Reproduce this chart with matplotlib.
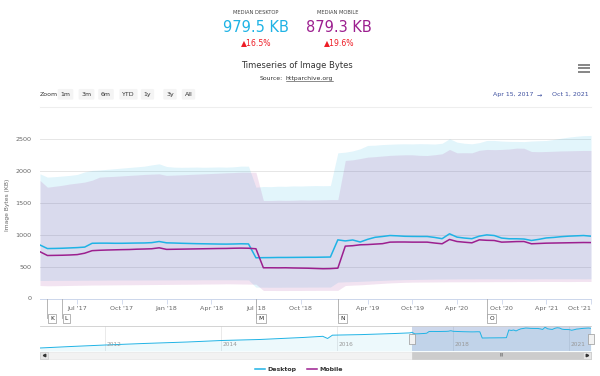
import numpy as np
import pandas as pd
import matplotlib
matplotlib.use('Agg')
import matplotlib.pyplot as plt
from matplotlib import transforms
from matplotlib.patches import Rectangle
from matplotlib.path import Path

# crawl dates: semi-monthly until end of 2018, monthly after that
dates = pd.DatetimeIndex(list(pd.date_range('2017-04-15', '2018-12-15', freq='SMS')) +
                         list(pd.date_range('2019-01-01', '2021-10-01', freq='MS')))

desktop_median = [
    841, 785, 787, 790, 795, 800, 808, 868, 870, 870,
    868, 868, 870, 872, 873, 878, 896, 875, 872, 868,
    865, 862, 860, 858, 856, 855, 857, 860, 858, 640,
    642, 643, 645, 645, 646, 647, 648, 648, 650, 652,
    922, 905, 920, 888, 930, 962, 975, 990, 985, 978,
    976, 975, 975, 960, 940, 1017, 965, 950, 940, 980,
    1000, 990, 950, 939, 939, 935, 912, 930, 952, 960,
    972, 980, 985, 990, 979.5]
mobile_median = [
    735, 676, 678, 680, 684, 690, 712, 752, 758, 762,
    765, 768, 770, 775, 778, 782, 797, 772, 774, 776,
    778, 780, 782, 784, 786, 787, 790, 792, 790, 782,
    483, 483, 482, 483, 480, 478, 476, 472, 468, 470,
    477, 823, 830, 844, 848, 855, 862, 886, 888, 888,
    886, 886, 886, 872, 860, 928, 896, 885, 875, 922,
    915, 912, 886, 890, 895, 896, 860, 865, 870, 872,
    874, 876, 878, 880, 879.3]
desktop_high = [
    1960, 1908, 1915, 1925, 1935, 1950, 1990, 2013, 2020, 2030,
    2040, 2050, 2060, 2070, 2080, 2100, 2117, 2075, 2065, 2062,
    2064, 2066, 2063, 2065, 2068, 2065, 2070, 2081, 2080, 1750,
    1760, 1758, 1765, 1763, 1770, 1768, 1772, 1775, 1773, 1775,
    2290, 2300, 2320, 2353, 2406, 2410, 2420, 2425, 2430, 2432,
    2430, 2434, 2432, 2428, 2440, 2511, 2458, 2440, 2432, 2450,
    2484, 2484, 2475, 2470, 2469, 2466, 2475, 2480, 2484, 2500,
    2520, 2537, 2550, 2560, 2563]
mobile_high = [
    1855, 1750, 1765, 1780, 1800, 1815, 1830, 1860, 1908, 1915,
    1920, 1928, 1935, 1942, 1950, 1955, 1960, 1935, 1940, 1945,
    1950, 1955, 1960, 1965, 1970, 1976, 1980, 1986, 1986, 1984,
    1541, 1541, 1545, 1543, 1545, 1550, 1548, 1550, 1552, 1555,
    1555, 2170, 2180, 2200, 2222, 2230, 2240, 2250, 2255, 2259,
    2259, 2250, 2248, 2260, 2275, 2343, 2290, 2292, 2290, 2330,
    2343, 2340, 2343, 2350, 2364, 2362, 2311, 2308, 2311, 2315,
    2320, 2322, 2325, 2327, 2327]
desktop_low = [
    283, 284, 285, 285, 286, 286, 287, 288, 288, 289,
    289, 290, 290, 290, 291, 291, 292, 292, 292, 293,
    293, 293, 294, 294, 294, 294, 294, 293, 292, 178,
    178, 177, 177, 178, 178, 178, 179, 179, 180, 180,
    257, 262, 266, 270, 275, 280, 285, 290, 294, 297,
    299, 301, 303, 305, 306, 307, 308, 309, 309, 310,
    311, 310, 309, 310, 311, 310, 309, 310, 311, 310,
    310, 311, 310, 309, 310]
mobile_low = [
    204, 200, 201, 203, 205, 207, 209, 211, 212, 213,
    214, 215, 216, 217, 218, 219, 220, 221, 222, 223,
    224, 225, 227, 228, 229, 231, 230, 228, 226, 225,
    126, 126, 125, 125, 126, 126, 127, 127, 128, 128,
    128, 204, 210, 215, 222, 230, 238, 245, 250, 254,
    257, 258, 259, 260, 261, 262, 262, 263, 263, 264,
    264, 265, 265, 265, 266, 266, 266, 267, 267, 267,
    267, 266, 267, 268, 267]

# older desktop history shown only in the navigator
nav_dates = ['2010-11-15', '2011-06-01', '2012-01-01', '2012-09-01', '2013-06-01',
             '2014-01-01', '2014-09-01', '2015-06-01', '2015-10-01', '2015-11-01',
             '2015-12-01', '2016-06-01', '2017-01-01', '2017-04-01']
nav_desktop = [291, 344, 396, 449, 501, 553, 589, 660, 700, 624, 740, 760, 799, 820]

tick_dates = ['2017-07-01', '2017-10-01', '2018-01-01', '2018-04-01', '2018-07-01', '2018-10-01',
              '2019-04-01', '2019-10-01', '2020-04-01', '2020-10-01', '2021-04-01', '2021-10-01']
flag_letters = ['K', 'L', 'M', 'N', 'O']
flag_dates = ['2017-05-01', '2017-06-01', '2018-07-01', '2018-12-15', '2020-08-01']
nav_years = ['2012', '2014', '2016', '2018', '2021']

C_DESK = '#1fb3e5'
C_MOB = '#9c1f8f'
C_RED = '#ee1c25'
C_GREY = '#666666'

W, H = 600, 376
fig = plt.figure(figsize=(6, 3.76), dpi=100)


def rect(x0, y0, x1, y1):
    return [x0 / W, 1 - y1 / H, (x1 - x0) / W, (y1 - y0) / H]


def halfmonth(d):
    return (d.year * 12 + d.month - 1) * 2 + (1 if d.day >= 15 else 0)


def ordinal(s):
    d = pd.Timestamp(s)
    if d >= dates[0]:
        return dates.get_indexer([d], method='bfill')[0]
    return halfmonth(d) - halfmonth(dates[0])


ax = fig.add_axes(rect(40, 133.1, 591, 298.5), zorder=1)
nav = fig.add_axes(rect(40, 326, 591, 351), zorder=1)
ov = fig.add_axes([0, 0, 1, 1], zorder=3)
ov.set_xlim(0, W)
ov.set_ylim(H, 0)
ov.axis('off')

# ---------------- main chart ----------------
x = np.arange(len(dates))
ax.fill_between(x, desktop_low, desktop_high, color=C_DESK, alpha=0.13, lw=0)
ax.fill_between(x, mobile_low, mobile_high, color=C_MOB, alpha=0.12, lw=0)
l_desk, = ax.plot(x, desktop_median, color=C_DESK, lw=1.1)
l_mob, = ax.plot(x, mobile_median, color=C_MOB, lw=1.1)

ax.set_xlim(0, x[-1])
ax.set_ylim(0, 2600)
ax.set_yticks([0, 500, 1000, 1500, 2000, 2500])
ax.yaxis.grid(True, color='#e6e6e6', lw=0.7)
ax.set_axisbelow(True)
for s in ['top', 'right', 'left']:
    ax.spines[s].set_visible(False)
ax.spines['bottom'].set_color('#ccd6eb')
ax.spines['bottom'].set_linewidth(0.7)
tick_idx = [dates.get_loc(pd.Timestamp(d)) for d in tick_dates]
ax.set_xticks(tick_idx)
ax.set_xticklabels([pd.Timestamp(d).strftime("%b '%y") for d in tick_dates])
ax.tick_params(axis='x', length=3.6, color='#ccd6eb', width=0.6, labelsize=4.6,
               labelcolor=C_GREY, pad=2)
ax.tick_params(axis='y', length=0, labelsize=4.6, labelcolor=C_GREY, pad=6)
ax.get_xticklabels()[-1].set_ha('right')
ax.set_ylabel('Image Bytes (KB)', fontsize=4.3, color=C_GREY)
ax.yaxis.set_label_coords(-0.054, 0.565)

# flags under the axis
blend_ax = transforms.blended_transform_factory(ax.transData, ov.transData)
shift = transforms.ScaledTranslation(2.5 / 100, 0, fig.dpi_scale_trans)
for letter, d in zip(flag_letters, flag_dates):
    i = dates.get_loc(pd.Timestamp(d))
    ov.plot([i, i], [298.5, 318], transform=blend_ax, color='#aaaaaa', lw=0.6)
    ov.text(i, 318.5, letter, transform=blend_ax + shift, ha='left', va='center',
            fontsize=4.2, color='#222222',
            bbox=dict(boxstyle='square,pad=0.35', fc='white', ec='#999999', lw=0.5))

# ---------------- navigator ----------------
nav_x = np.concatenate([[ordinal(d) for d in nav_dates], x])
nav_y = np.concatenate([nav_desktop, desktop_median])
nav.fill_between(nav_x, 186, nav_y, color=C_DESK, alpha=0.08, lw=0)
nav.plot(nav_x, nav_y, color=C_DESK, lw=0.7)
nav.axvspan(0, x[-1], color='#6685c2', alpha=0.32, lw=0)
nav.set_xlim(nav_x[0], x[-1])
nav.set_ylim(186, 1061)
nav.set_xticks([])
nav.set_yticks([])
for s in ['left', 'right', 'bottom']:
    nav.spines[s].set_visible(False)
nav.spines['top'].set_color('#cccccc')
nav.spines['top'].set_linewidth(0.6)
blend_nav_ax = transforms.blended_transform_factory(nav.transData, nav.transAxes)
for yr in nav_years:
    i = ordinal(yr + '-01-01')
    nav.axvline(i, color='#e6e6e6', lw=0.6, zorder=0)
    nav.text(i, 0.24, yr, transform=blend_nav_ax + transforms.ScaledTranslation(1.5 / 100, 0, fig.dpi_scale_trans),
             ha='left', va='center', fontsize=4.2, color='#999999')
handle = Path([(-0.25, -0.5), (0.25, -0.5), (0.25, 0.5), (-0.25, 0.5), (-0.25, -0.5)])
nav.plot([0, x[-1]], [0.5, 0.5], transform=blend_nav_ax, ls='none', marker=handle, ms=7.5,
         mfc='#f2f2f2', mec='#999999', mew=0.5, clip_on=False)

# scrollbar
blend_nav = transforms.blended_transform_factory(nav.transData, ov.transData)
ov.add_patch(Rectangle((40, 351.5), 551, 7, fc='#f2f2f2', ec='#e6e6e6', lw=0.5))
ov.add_patch(Rectangle((0, 351.5), x[-1], 7, transform=blend_nav, fc='#cccccc', ec='#cccccc', lw=0.5))
ov.add_patch(Rectangle((40, 351.5), 8, 7, fc='#e6e6e6', ec='#cccccc', lw=0.5))
ov.add_patch(Rectangle((583, 351.5), 8, 7, fc='#e6e6e6', ec='#cccccc', lw=0.5))
ov.plot([44], [355], marker='<', ms=1.8, color='#333333')
ov.plot([587], [355], marker='>', ms=1.8, color='#333333')
ov.text(x[-1] / 2, 355, '|||', transform=blend_nav, fontsize=3, ha='center', va='center', color='#333333')

# ---------------- header ----------------
ov.text(255.5, 13, 'MEDIAN DESKTOP', fontsize=3.7, color='#444444', ha='center', va='center')
ov.text(255.5, 27.5, '979.5 KB', fontsize=10.5, color=C_DESK, ha='center', va='center')
ov.text(256.5, 43, '▲16.5%', fontsize=5.6, color=C_RED, ha='center', va='center')
ov.text(338, 13, 'MEDIAN MOBILE', fontsize=3.7, color='#444444', ha='center', va='center')
ov.text(338.5, 27.5, '879.3 KB', fontsize=10.5, color=C_MOB, ha='center', va='center')
ov.text(339, 43, '▲19.6%', fontsize=5.6, color=C_RED, ha='center', va='center')

ov.text(297, 65.7, 'Timeseries of Image Bytes', fontsize=6, color='#333333', ha='center', va='center')
ov.text(283, 78.3, 'Source:', fontsize=4.4, color='#333333', ha='right', va='center')
link = ov.text(285.5, 78.3, 'httparchive.org', fontsize=4.4, color='#333333', ha='left', va='center')
fig.canvas.draw()
bb = link.get_window_extent().transformed(ov.transData.inverted())
ov.plot([bb.x0, bb.x1], [81.2, 81.2], color='#333333', lw=0.4)

for yy in [64.5, 68, 71.5]:
    ov.plot([578, 590], [yy, yy], color=C_GREY, lw=1.1, solid_capstyle='butt')

# range selector row
ov.text(49, 94.3, 'Zoom', fontsize=4.5, color='#333333', ha='center', va='center')
for label, cx in zip(['1m', '3m', '6m', 'YTD', '1y', '3y', 'All'],
                     [65.5, 86.5, 106, 128.5, 147.5, 170, 188.5]):
    ov.text(cx, 94.3, label, fontsize=4.5, color='#333333', ha='center', va='center',
            bbox=dict(boxstyle='round,pad=0.45,rounding_size=0.2', fc='#f4f4f4', ec='none'))
ov.text(493, 94.3, 'Apr 15, 2017', fontsize=4.5, color='#3d4f9f', ha='left', va='center')
ov.text(539.5, 94.3, '→', fontsize=4.5, color='#3d4f9f', ha='center', va='center')
ov.text(552, 94.3, 'Oct 1, 2021', fontsize=4.5, color='#3d4f9f', ha='left', va='center')
ov.plot([40, 591], [106.5, 106.5], color='#eeeeee', lw=0.8)

fig.legend(handles=[l_desk, l_mob], labels=['Desktop', 'Mobile'], loc='center',
           bbox_to_anchor=(299 / W, 1 - 369 / H), ncol=2, frameon=False,
           prop={'size': 4.5, 'weight': 'bold'}, labelcolor='#333333',
           handlelength=1.6, handletextpad=0.5, columnspacing=1.6)

fig.savefig('out.png', dpi=100)
